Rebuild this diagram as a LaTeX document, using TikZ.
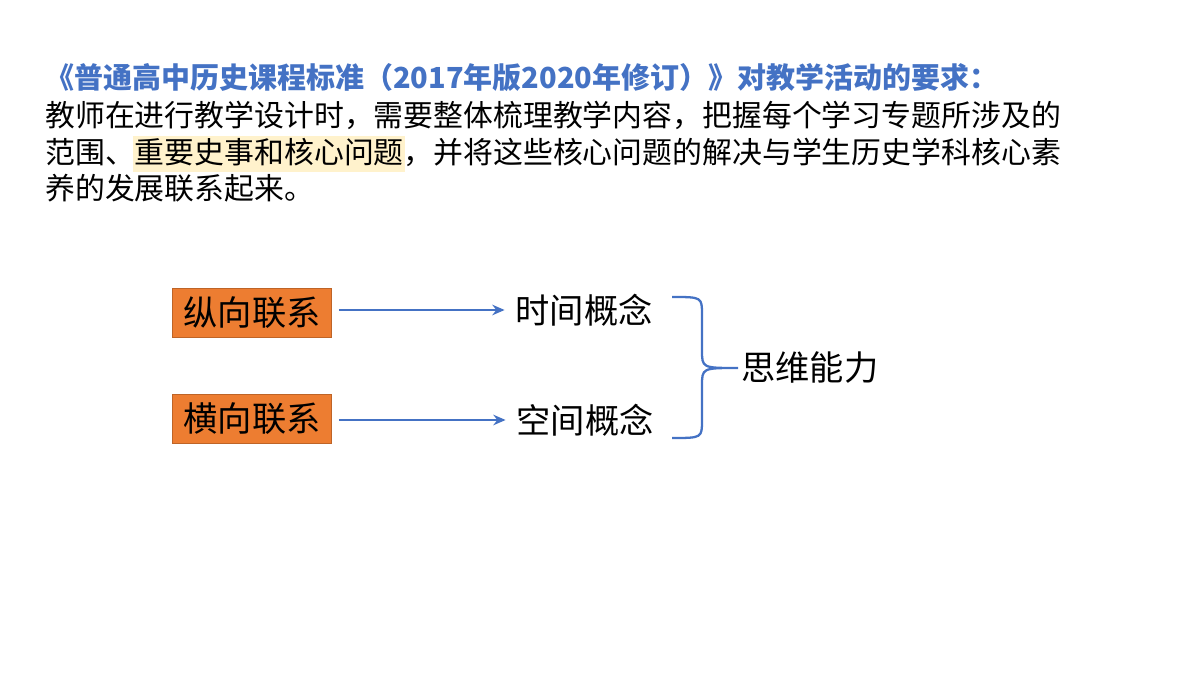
\documentclass[tikz,border=0pt]{standalone}
\usepackage{fontspec}
\setmainfont{Noto Sans CJK SC}
\usetikzlibrary{positioning,arrows.meta}
\definecolor{titleblue}{HTML}{4472C4}
\definecolor{boxorange}{HTML}{ED7D31}
\definecolor{hilite}{HTML}{FFF2CC}
\tikzset{
  linkbox/.style={fill=boxorange, draw=boxorange!80!black, minimum width=3.18cm, minimum height=0.98cm, inner sep=0pt, font=\fontsize{19.5}{22}\selectfont},
  concept/.style={font=\fontsize{19.5}{22}\selectfont, inner sep=0pt},
  bodyline/.style={anchor=west, inner sep=0pt, font=\fontsize{17}{19}\selectfont},
  linkarrow/.style={-{Stealth[length=7pt,width=6pt]}, line width=1.3pt, titleblue}
}
\begin{document}
\begin{tikzpicture}[x=0.02cm, y=-0.02cm]
\useasboundingbox (0,0) rectangle (1200,675);
\fill[hilite] (133,136) rectangle (405,172); %highlight
\node[bodyline, text=titleblue, font=\fontsize{16.5}{18}\selectfont\bfseries] (title) at (45,78) {《普通高中历史课程标准（2017年版2020年修订）》对教学活动的要求：};
\node[bodyline] (l1) at (45,115) {教师在进行教学设计时，需要整体梳理教学内容，把握每个学习专题所涉及的};
\node[bodyline] (l2) at (45,152) {范围、重要史事和核心问题，并将这些核心问题的解决与学生历史学科核心素};
\node[bodyline] (l3) at (45,188) {养的发展联系起来。};
% boxes and concepts
\node[linkbox] (zong) at (252,313) {纵向联系};
\node[linkbox] (heng) at (252,419) {横向联系};
\node[concept] (time) at (584,310) {时间概念};
\node[concept] (space) at (585,420) {空间概念};
\node[concept, anchor=west] (think) at (741,368) {思维能力};
\draw[linkarrow] ([xshift=4pt]zong.east |- time.west) -- ([xshift=-6pt]time.west);
\draw[linkarrow] ([xshift=4pt]heng.east |- space.west) -- ([xshift=-6pt]space.west);
% brace
\draw[line width=1.3pt, titleblue] (672,297) .. controls (702,297) .. (702,315) -- (702,350)
  .. controls (702,368) .. (738,368)
  .. controls (702,368) .. (702,386) -- (702,420)
  .. controls (702,438) .. (672,438);
\end{tikzpicture}
\end{document}
